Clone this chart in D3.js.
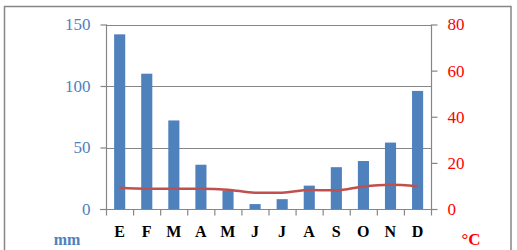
<!DOCTYPE html>
<html><head><meta charset="utf-8">
<script src="https://cdn.jsdelivr.net/npm/d3@7"></script>
<style>body{margin:0;background:#fff}svg{display:block}
svg text{font-family:"Liberation Serif","Times New Roman","DejaVu Serif",serif !important}</style>
</head><body>
<script>
const months = ["E","F","M","A","M","J","J","A","S","O","N","D"];
const precip = [142,110,72,36,15,4,8,19,34,39,54,96];
const temp = [9.2,8.8,8.8,8.8,8.4,7.1,7.1,8.2,8.1,9.8,10.5,9.9];
const leftTicks = [0,50,100,150];
const rightTicks = [0,20,40,60,80];

const W=517,H=250;
const svg=d3.select("body").append("svg").attr("width",W).attr("height",H);
const m={l:106,r:431,t:24.5,b:209};
svg.append("rect").attr("x",4.5).attr("y",6.5).attr("width",506.5).attr("height",260)
  .attr("fill","none").attr("stroke","#868686").attr("stroke-width",1.5);

const x=d3.scaleBand().domain(d3.range(12)).range([m.l,m.r]);
const yL=d3.scaleLinear().domain([0,150]).range([m.b,m.t]);
const yR=d3.scaleLinear().domain([0,80]).range([m.b,m.t]);

// gridlines
svg.append("g").selectAll("line").data(leftTicks).join("line")
  .attr("x1",m.l).attr("x2",m.r).attr("y1",d=>Math.round(yL(d))+0.5).attr("y2",d=>Math.round(yL(d))+0.5)
  .attr("stroke","#868686").attr("stroke-width",1);

// bars
svg.append("g").selectAll("rect").data(precip).join("rect")
  .attr("x",(d,i)=>x(i)+x.bandwidth()*0.3).attr("width",x.bandwidth()*0.41)
  .attr("y",d=>yL(d)).attr("height",d=>m.b-yL(d)).attr("fill","#4F81BD");

// temperature line
const line=d3.line().x((d,i)=>x(i)+x.bandwidth()/2).y(d=>yR(d)).curve(d3.curveMonotoneX);
svg.append("path").datum(temp).attr("d",line).attr("fill","none")
  .attr("stroke","#C0504D").attr("stroke-width",2.5);

// axes
const gl=svg.append("g").attr("transform",`translate(${m.l+0.5},0)`)
  .call(d3.axisLeft(yL).tickValues(leftTicks).tickSize(6).tickPadding(10));
const gr=svg.append("g").attr("transform",`translate(${m.r+0.5},0)`)
  .call(d3.axisRight(yR).tickValues(rightTicks).tickSize(6).tickPadding(10));
[gl,gr].forEach(g=>{g.selectAll("path,line").attr("stroke","#868686").attr("stroke-width",1.2);
  g.selectAll("text").attr("font-size",17);});
gl.selectAll("text").attr("fill","#4F81BD");
gr.selectAll("text").attr("fill","#FF0000");
gl.select(".domain").attr("d",`M0,${m.t}V${m.b}`);
gr.select(".domain").attr("d",`M0,${m.t}V${m.b}`);

// bottom axis
const gb=svg.append("g").attr("transform",`translate(0,${m.b+0.5})`);
gb.append("line").attr("x1",m.l-6).attr("x2",m.r+6).attr("stroke","#868686").attr("stroke-width",1.2);
gb.selectAll("line.t").data(d3.range(13)).join("line").attr("class","t")
  .attr("x1",i=>(i<12?x(i):m.r)+0.5).attr("x2",i=>(i<12?x(i):m.r)+0.5).attr("y1",0).attr("y2",6)
  .attr("stroke","#868686").attr("stroke-width",1.2);
gb.selectAll("text").data(months).join("text")
  .attr("x",(d,i)=>x(i)+x.bandwidth()/2).attr("y",27).attr("text-anchor","middle")
  .attr("font-weight","bold").attr("font-size",16).attr("fill","#000").text(d=>d);

svg.append("text").attr("x",67).attr("y",245).attr("text-anchor","middle")
  .attr("font-weight","bold").attr("font-size",16).attr("fill","#4F81BD").text("mm");
svg.append("text").attr("x",471).attr("y",245).attr("text-anchor","middle")
  .attr("font-weight","bold").attr("font-size",17).attr("fill","#FF0000").text("°C");
</script>
</body></html>
